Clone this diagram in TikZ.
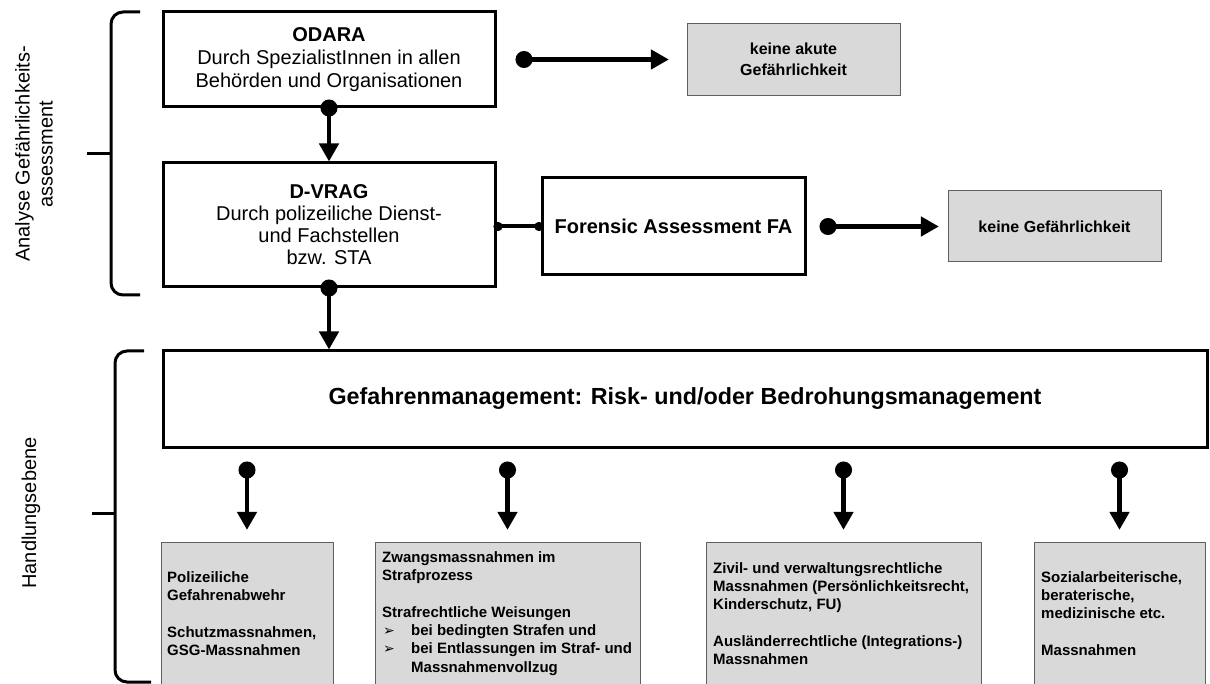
\documentclass[tikz,border=0pt]{standalone}
\usepackage{fontspec}
\setmainfont{Liberation Sans}
\newfontfamily\dejavu{DejaVu Sans}
\usetikzlibrary{arrows.meta}
\definecolor{boxgray}{RGB}{217,217,217}
\definecolor{edgegray}{RGB}{95,95,95}
\tikzset{
  bbox/.style={draw, line width=3pt, fill=white, inner sep=0pt, align=center},
  gbox/.style={draw=edgegray, line width=1pt, fill=boxgray, inner sep=0pt, align=center},
  conn/.style={line width=4.5pt, {Circle[length=17pt]}-{Triangle[length=18pt,width=19pt]}},
  tiny/.style={line width=4pt, {Circle[length=9pt]}-{Circle[length=9pt]}},
  brace/.style={line width=3pt, rounded corners=12pt},
  mtext/.style={anchor=west, inner sep=0pt, align=left, font=\bfseries\fontsize{15}{18.3}\selectfont},
  side/.style={rotate=90, inner sep=0pt, align=center, font=\fontsize{20}{23}\selectfont}
}
\newcommand{\bul}{\makebox[29pt][l]{\hspace{1pt}{\dejavu\fontsize{14}{14}\selectfont ➢}}}
\begin{document}
\begin{tikzpicture}[x=1pt,y=-1pt]
\useasboundingbox (0,0) rectangle (1210,684);
\clip (0,0) rectangle (1210,684);

% upper boxes
\node[bbox, minimum width=332pt, minimum height=95pt, font=\fontsize{20}{23}\selectfont] (odara) at (329,59.5)
  {\textbf{ODARA}\\Durch SpezialistInnen in allen\\Behörden und Organisationen};
\node[bbox, minimum width=332pt, minimum height=124pt, font=\fontsize{20}{22}\selectfont] (dvrag) at (329,225)
  {\textbf{D-VRAG}\\Durch polizeiliche Dienst-\\und Fachstellen\\bzw. STA};
\node[bbox, minimum width=263pt, minimum height=97pt, font=\bfseries\fontsize{20}{23}\selectfont] (fa) at (673.5,226.5)
  {Forensic Assessment FA};
\node[gbox, minimum width=213pt, minimum height=72pt, font=\bfseries\fontsize{16}{21}\selectfont] (k1) at (793.5,59.5)
  {keine akute\\Gefährlichkeit};
\node[gbox, minimum width=213pt, minimum height=71pt, font=\bfseries\fontsize{16}{21}\selectfont] (k2) at (1054.5,226.5)
  {keine Gefährlichkeit};

% management box
\node[bbox, minimum width=1044pt, minimum height=96pt, font=\bfseries\fontsize{23.3}{27}\selectfont] (gef) at (685,399)
  {Gefahrenmanagement: Risk- und/oder Bedrohungsmanagement};

% lower boxes
\node[gbox, minimum width=172pt, minimum height=178pt] (m1) at (247,631) {};
\node[gbox, minimum width=265pt, minimum height=178pt] (m2) at (507.5,631) {};
\node[gbox, minimum width=275pt, minimum height=178pt] (m3) at (843.5,631) {};
\node[gbox, minimum width=171pt, minimum height=178pt] (m4) at (1119.5,631) {};

\node[mtext] (t1) at (167,613.5)
  {Polizeiliche\\Gefahrenabwehr\\[18.3pt]Schutzmassnahmen,\\GSG-Massnahmen};
\node[mtext] (t2) at (382,613.5)
  {Zwangsmassnahmen im\\Strafprozess\\[18.3pt]Strafrechtliche Weisungen\\
   \bul bei bedingten Strafen und\\\bul bei Entlassungen im Straf- und\\\hspace*{29pt}Massnahmenvollzug};
\node[mtext] (t3) at (713,613.5)
  {Zivil- und verwaltungsrechtliche\\Massnahmen (Persönlichkeitsrecht,\\Kinderschutz, FU)\\[18.3pt]Ausländerrechtliche (Integrations-)\\Massnahmen};
\node[mtext] (t4) at (1041,613.5)
  {Sozialarbeiterische,\\beraterische,\\medizinische etc.\\[18.3pt]Massnahmen};

% side labels
\node[side] (lab1) at (34,154) {Analyse Gefährlichkeits-\\assessment};
\node[side] (lab2) at (31,513) {Handlungsebene};

% braces
\draw[brace] (140,12) -- (111,12) -- (111,295) -- (140,295);
\draw[line width=3pt] (87,154) -- (111,154);
\draw[brace] (144,351) -- (115,351) -- (115,682) -- (151,682);
\draw[line width=3pt] (92,513) -- (115,513);

% connectors
\draw[conn, shorten <=19pt, shorten >=17.6pt] (odara.east) -- (k1.west);
\draw[conn, shorten <=-9pt] (odara.south) -- (dvrag.north);
\draw[tiny, shorten <=-3pt, shorten >=-3pt] (dvrag.east |- fa.west) -- (fa.west);
\draw[conn, shorten <=13pt, shorten >=8.6pt] (fa.east) -- (k2.west);
\draw[conn, shorten <=-9pt] (dvrag.south) -- (dvrag.south |- gef.north);
\foreach \m in {m1,m2,m3,m4}
  \draw[conn, shorten <=13pt, shorten >=11.6pt] (\m.north |- gef.south) -- (\m.north);
\end{tikzpicture}
\end{document}
